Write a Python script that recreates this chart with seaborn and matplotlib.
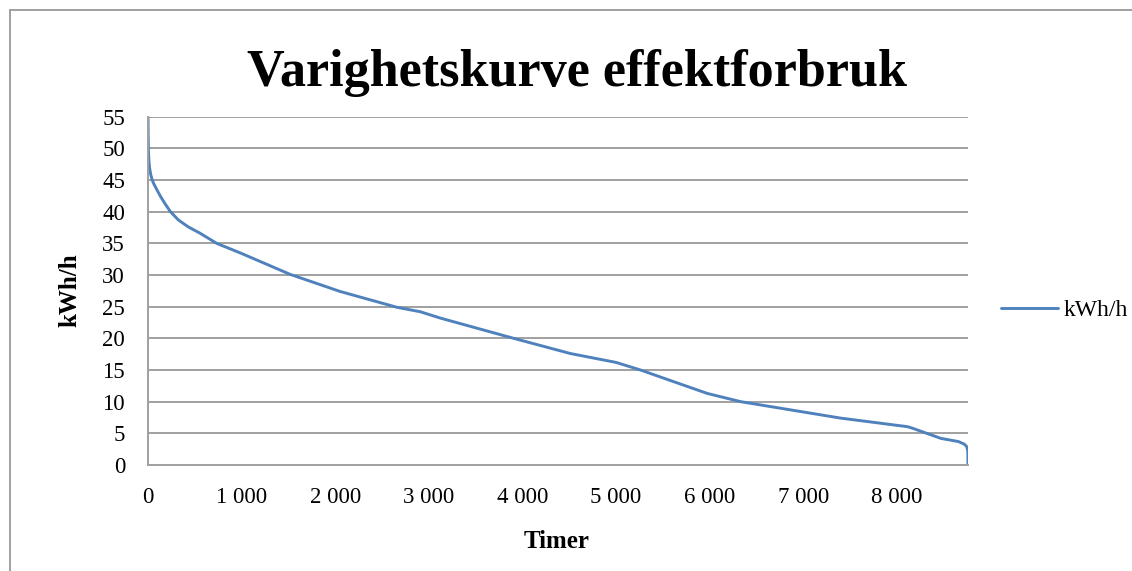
import matplotlib
matplotlib.use("Agg")
import matplotlib.pyplot as plt
from matplotlib.ticker import FuncFormatter
from matplotlib.lines import Line2D
import seaborn as sns
import pandas as pd

# Sorted hourly load (duration curve): hours vs. load in kWh/h
hours = [0, 2, 5, 10, 18, 30, 45, 62, 90, 134, 180, 240, 324, 430, 556, 734,
         1000, 1519, 2053, 2660, 2909, 3123, 3907, 4513, 5000, 5262, 5511,
         5975, 6332, 6866, 7401, 8114, 8168, 8471, 8658, 8720, 8747, 8758, 8760]
load = [55, 52, 49.5, 48, 46.8, 45.8, 45.0, 44.4, 43.6, 42.4, 41.3, 40.0,
        38.7, 37.6, 36.6, 35.0, 33.4, 30.1, 27.4, 24.9, 24.2, 23.2, 20.0, 17.6,
        16.2, 15.0, 13.7, 11.3, 10.0, 8.7, 7.4, 6.05, 5.8, 4.2, 3.7, 3.3, 2.9,
        2.2, 0]
series_name = "kWh/h"
y_ticks = list(range(0, 60, 5))
x_ticks = list(range(0, 9000, 1000))

df = pd.DataFrame({"Timer": hours, series_name: load})

sns.set_style("white")
plt.rcParams["font.family"] = ["Liberation Serif", "DejaVu Serif"]
plt.rcParams["text.color"] = "black"
plt.rcParams["axes.labelcolor"] = "black"

W, H = 1132, 571
fig = plt.figure(figsize=(W / 100, H / 100), dpi=100)
ax = fig.add_axes([148 / W, 1 - 465 / H, (968 - 148) / W, (465 - 116.7) / H])

grey = "#A0A0A0"
blue = "#4F81BD"

sns.lineplot(data=df, x="Timer", y=series_name, ax=ax, color=blue,
             linewidth=2.1, label=series_name, legend=False)

ax.set_xlim(0, 8760)
ax.set_ylim(0, 55)
ax.set_xticks(x_ticks)
ax.set_yticks(y_ticks)
ax.xaxis.set_major_formatter(FuncFormatter(lambda v, p: f"{int(v):,}".replace(",", " ")))
ax.yaxis.grid(True, color=grey, linewidth=1.4)
ax.xaxis.grid(False)
ax.set_axisbelow(True)

for s in ["top", "right"]:
    ax.spines[s].set_visible(False)
for s in ["left", "bottom"]:
    ax.spines[s].set_color(grey)
    ax.spines[s].set_linewidth(1.4)

ax.tick_params(axis="both", which="major", direction="out", color=grey,
               width=1.2, length=6.5, labelsize=16.5, labelcolor="black")
ax.tick_params(axis="y", pad=10)
ax.tick_params(axis="x", pad=9)

ax.set_xlabel("Timer", fontsize=18, fontweight="bold", color="black")
ax.set_ylabel("kWh/h", fontsize=18, fontweight="bold", color="black")
ax.xaxis.set_label_coords((557 - 148) / 820, (465 - 541) / 348.3)
ax.yaxis.set_label_coords((70 - 148) / 820, (465 - 290) / 348.3)
ax.xaxis.label.set_va("center")
ax.yaxis.label.set_va("center")

fig.text(0.51, 1 - 86 / H, "Varighetskurve effektforbruk", ha="center",
         va="baseline", fontsize=37.5, fontweight="bold", color="black")

handle = Line2D([], [], color=blue, linewidth=2.1)
leg = fig.legend([handle], [series_name], loc="center left",
                 bbox_to_anchor=(980 / W, 1 - 310 / H), frameon=False,
                 fontsize=17, handlelength=2.4, handletextpad=0.25)
for t in leg.get_texts():
    t.set_color("black")

# Chart frame
fig.add_artist(Line2D([10 / W, 1.0], [1 - 10 / H, 1 - 10 / H], color=grey,
                      linewidth=1.4, transform=fig.transFigure))
fig.add_artist(Line2D([10 / W, 10 / W], [0.0, 1 - 10 / H], color=grey,
                      linewidth=1.4, transform=fig.transFigure))

fig.savefig("out.png", dpi=100, facecolor="white")
